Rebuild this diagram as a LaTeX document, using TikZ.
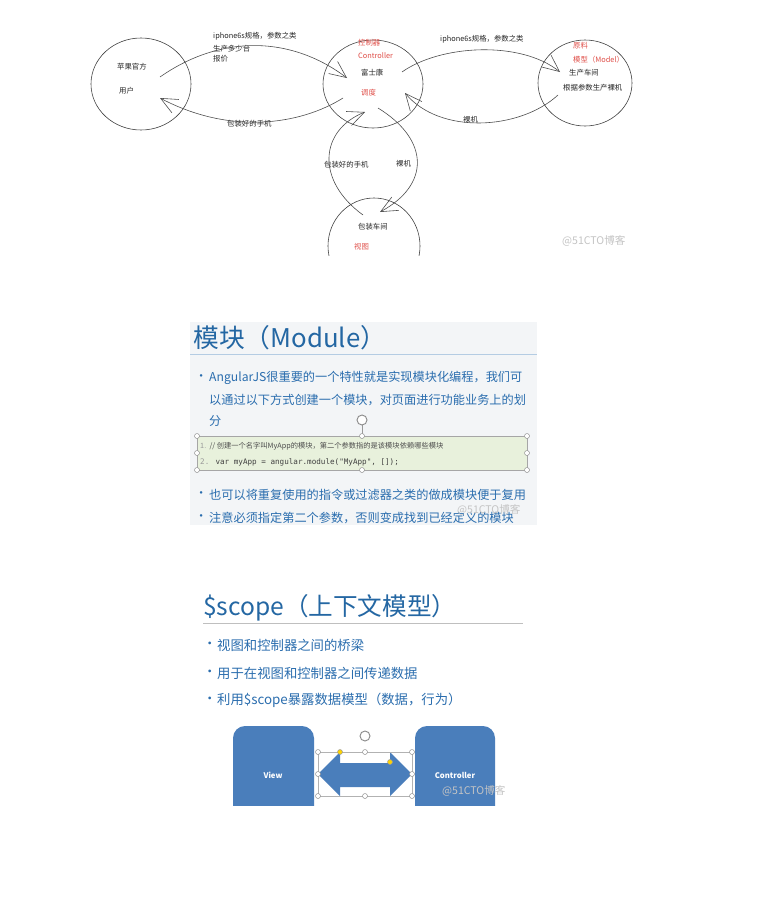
\documentclass[tikz,border=0pt]{standalone}
\usepackage{fontspec}
\newfontfamily\cjk{Noto Sans CJK SC}
\newfontfamily\codefont{DejaVu Sans Mono}
\usetikzlibrary{arrows.meta,shapes.geometric}
\definecolor{redlbl}{HTML}{E0504A}
\definecolor{slidebg}{HTML}{F3F5F7}
\definecolor{titleblue}{HTML}{2467A3}
\definecolor{textblue}{HTML}{2A6DAE}
\definecolor{boxblue}{HTML}{4A7EBB}
\definecolor{codebg}{HTML}{E8F1DC}
\definecolor{wmark}{HTML}{C4C4C4}
\begin{document}
\begin{tikzpicture}[x=0.3mm,y=-0.3mm,
  ring/.style={draw=black!75,ellipse,inner sep=0pt,line width=0.5pt},
  hand/.style={draw=black!70,line width=0.5pt,-{Straight Barb[length=5mm,width=4.5mm]}},
  lbl/.style={font=\cjk\fontsize{6.3}{7}\selectfont,inner sep=0pt,anchor=west,text=black!85},
  redl/.style={lbl,text=redlbl},
  wm/.style={font=\cjk\fontsize{9}{10}\selectfont,inner sep=0pt,anchor=west,text=wmark},
  handle/.style={draw=black!45,fill=white,line width=0.4pt},
  bul/.style={font=\cjk\fontsize{10.4}{12}\selectfont,inner sep=0pt,anchor=west,text=textblue},
  bulb/.style={font=\cjk\fontsize{11.4}{13}\selectfont,inner sep=0pt,anchor=west,text=textblue}]
\useasboundingbox (0,0) rectangle (766,900);
\fill[white] (0,0) rectangle (766,900);

% panel 1: the hand-drawn sketch
\begin{scope}
\clip (0,0) rectangle (766,255);
\node[ring,minimum width=30mm,minimum height=27.6mm] (user) at (141,84) {};
\node[ring,minimum width=30mm,minimum height=26.4mm] (ctrl) at (373,84) {};
\node[ring,minimum width=28.2mm,minimum height=25.8mm] (model) at (585,83) {};
\node[ring,minimum width=27.6mm,minimum height=28.8mm] (view) at (374,246) {};

\node[lbl] (u1) at (117,67) {苹果官方};
\node[lbl] (u2) at (119,91) {用户};
\node[redl] (c1) at (358,43) {控制器};
\node[redl] (c2) at (358,56) {Controller};
\node[lbl] (c3) at (361,73) {富士康};
\node[redl] (c4) at (361,93) {调度};
\node[redl] (m1) at (573,46) {原料};
\node[redl] (m2) at (573,60) {模型（Model）};
\node[lbl] (m3) at (569,73) {生产车间};
\node[lbl] (m4) at (563,88) {根据参数生产裸机};
\node[lbl] (v1) at (358,227) {包装车间};
\node[redl] (v2) at (354,247) {视图};

\node[lbl] (l1) at (213,36) {iphone6s规格，参数之类};
\node[lbl] (l2) at (213,49) {生产多少台};
\node[lbl] (l3) at (213,59) {报价};
\node[lbl] (l4) at (440,39) {iphone6s规格，参数之类};
\node[lbl] (l5) at (227,124) {包装好的手机};
\node[lbl] (l6) at (463,120) {裸机};
\node[lbl] (l7) at (324,165) {包装好的手机};
\node[lbl] (l8) at (396,164) {裸机};

\coordinate (ua) at (160,77);
\coordinate (ub) at (160,98);
\coordinate (ca) at (347,78);
\coordinate (cb) at (343,98);
\coordinate (cc) at (402,72);
\coordinate (cd) at (405,93);
\coordinate (ce) at (365,112);
\coordinate (cf) at (378,108);
\coordinate (ma) at (560,72);
\coordinate (mb) at (558,95);
\coordinate (va) at (363,215);
\coordinate (vb) at (380,212);

\draw[hand] (ua) .. controls (220,35) and (290,35) .. (ca);
\draw[hand] (cb) .. controls (300,125) and (230,135) .. (ub);
\draw[hand] (cc) .. controls (440,45) and (520,40) .. (ma);
\draw[hand] (mb) .. controls (520,130) and (440,135) .. (cd);
\draw[hand] (va) .. controls (315,180) and (320,130) .. (ce);
\draw[hand] (cf) .. controls (430,140) and (430,185) .. (vb);

\node[wm] (w1) at (562,241) {@51CTO博客};
\end{scope}

% panel 2: the Module slide
\begin{scope}
\clip (190,322) rectangle (537,525);
\fill[slidebg] (190,322) rectangle (537,525);
\node[font=\cjk\fontsize{22}{24}\selectfont,inner sep=0pt,anchor=west,text=titleblue] (t2) at (193,338) {模块（Module）};
\draw[draw=textblue!35,line width=0.8pt] (190,354) -- (537,354);
\node[bul] (d1) at (195,378) {•};
\node[bul] (b1) at (209,378) {AngularJS很重要的一个特性就是实现模块化编程，我们可};
\node[bul] (b2) at (209,400) {以通过以下方式创建一个模块，对页面进行功能业务上的划};
\node[bul] (b3) at (209,421) {分};

\draw[draw=black!35,fill=codebg,line width=0.4pt] (197,436) rectangle (527,470);
\draw[draw=black!40,line width=0.4pt] (362,420) -- (362,436);
\draw[handle,line width=0.8pt] (362,420) circle[radius=1.5mm];
\foreach \hx/\hy in {197/436,362/436,527/436,197/453,527/453,197/470,362/470,527/470}
  \draw[handle] (\hx,\hy) circle[radius=0.75mm];
\node[font=\cjk\fontsize{6.2}{7}\selectfont,inner sep=0pt,anchor=west,text=black!70] (k1) at (200,446)
  {\textcolor{black!40}{1.}\ \ // 创建一个名字叫MyApp的模块，第二个参数指的是该模块依赖哪些模块};
\node[font=\codefont\fontsize{6.5}{7}\selectfont,inner sep=0pt,anchor=west,text=black!75] (k2) at (200,462)
  {\textcolor{black!40}{2.} var myApp = angular.module("MyApp", []);};

\node[bul] (d4) at (195,495) {•};
\node[bul] (b4) at (209,495) {也可以将重复使用的指令或过滤器之类的做成模块便于复用};
\node[bul] (d5) at (195,518) {•};
\node[bul] (b5) at (209,518) {注意必须指定第二个参数，否则变成找到已经定义的模块};
\node[wm] (w2) at (457,510) {@51CTO博客};
\end{scope}

% panel 3: the scope slide
\begin{scope}
\clip (195,585) rectangle (530,805);
\node[font=\cjk\fontsize{21}{24}\selectfont,inner sep=0pt,anchor=west,text=titleblue] (t3) at (203,608) {\$scope（上下文模型）};
\draw[draw=black!25,line width=0.8pt] (203,623) -- (523,623);
\node[bulb] (e1) at (203,645) {•};
\node[bulb] (s1) at (217,645) {视图和控制器之间的桥梁};
\node[bulb] (e2) at (203,673) {•};
\node[bulb] (s2) at (217,673) {用于在视图和控制器之间传递数据};
\node[bulb] (e3) at (203,700) {•};
\node[bulb] (s3) at (217,700) {利用\$scope暴露数据模型（数据，行为）};

\fill[boxblue,rounded corners=3.6mm] (233,830) -- (233,726) -- (314,726) -- (314,830) -- cycle;
\fill[boxblue,rounded corners=3.6mm] (415,830) -- (415,726) -- (495,726) -- (495,830) -- cycle;
\node[font=\cjk\bfseries\fontsize{6.6}{8}\selectfont,text=white,inner sep=0pt] (viewt) at (273,775) {View};
\node[font=\cjk\bfseries\fontsize{6.6}{8}\selectfont,text=white,inner sep=0pt] (ctrlt) at (455,775) {Controller};

\fill[boxblue] (318,774) -- (340,752) -- (340,763) -- (390,763) -- (390,752) -- (412,774)
  -- (390,796) -- (390,787) -- (340,787) -- (340,796) -- cycle;
\draw[draw=black!30,line width=0.4pt] (318,752) rectangle (412,796);
\draw[handle,line width=0.8pt] (365,736) circle[radius=1.5mm];
\foreach \hx/\hy in {318/752,365/752,412/752,318/774,412/774,318/796,365/796,412/796}
  \draw[handle] (\hx,\hy) circle[radius=0.75mm];
\draw[draw=black!40,fill=yellow!70!orange] (340,752) circle[radius=0.75mm];
\draw[draw=black!40,fill=yellow!70!orange] (390,762) circle[radius=0.75mm];
\node[wm] (w3) at (442,791) {@51CTO博客};
\end{scope}
\end{tikzpicture}
\end{document}
